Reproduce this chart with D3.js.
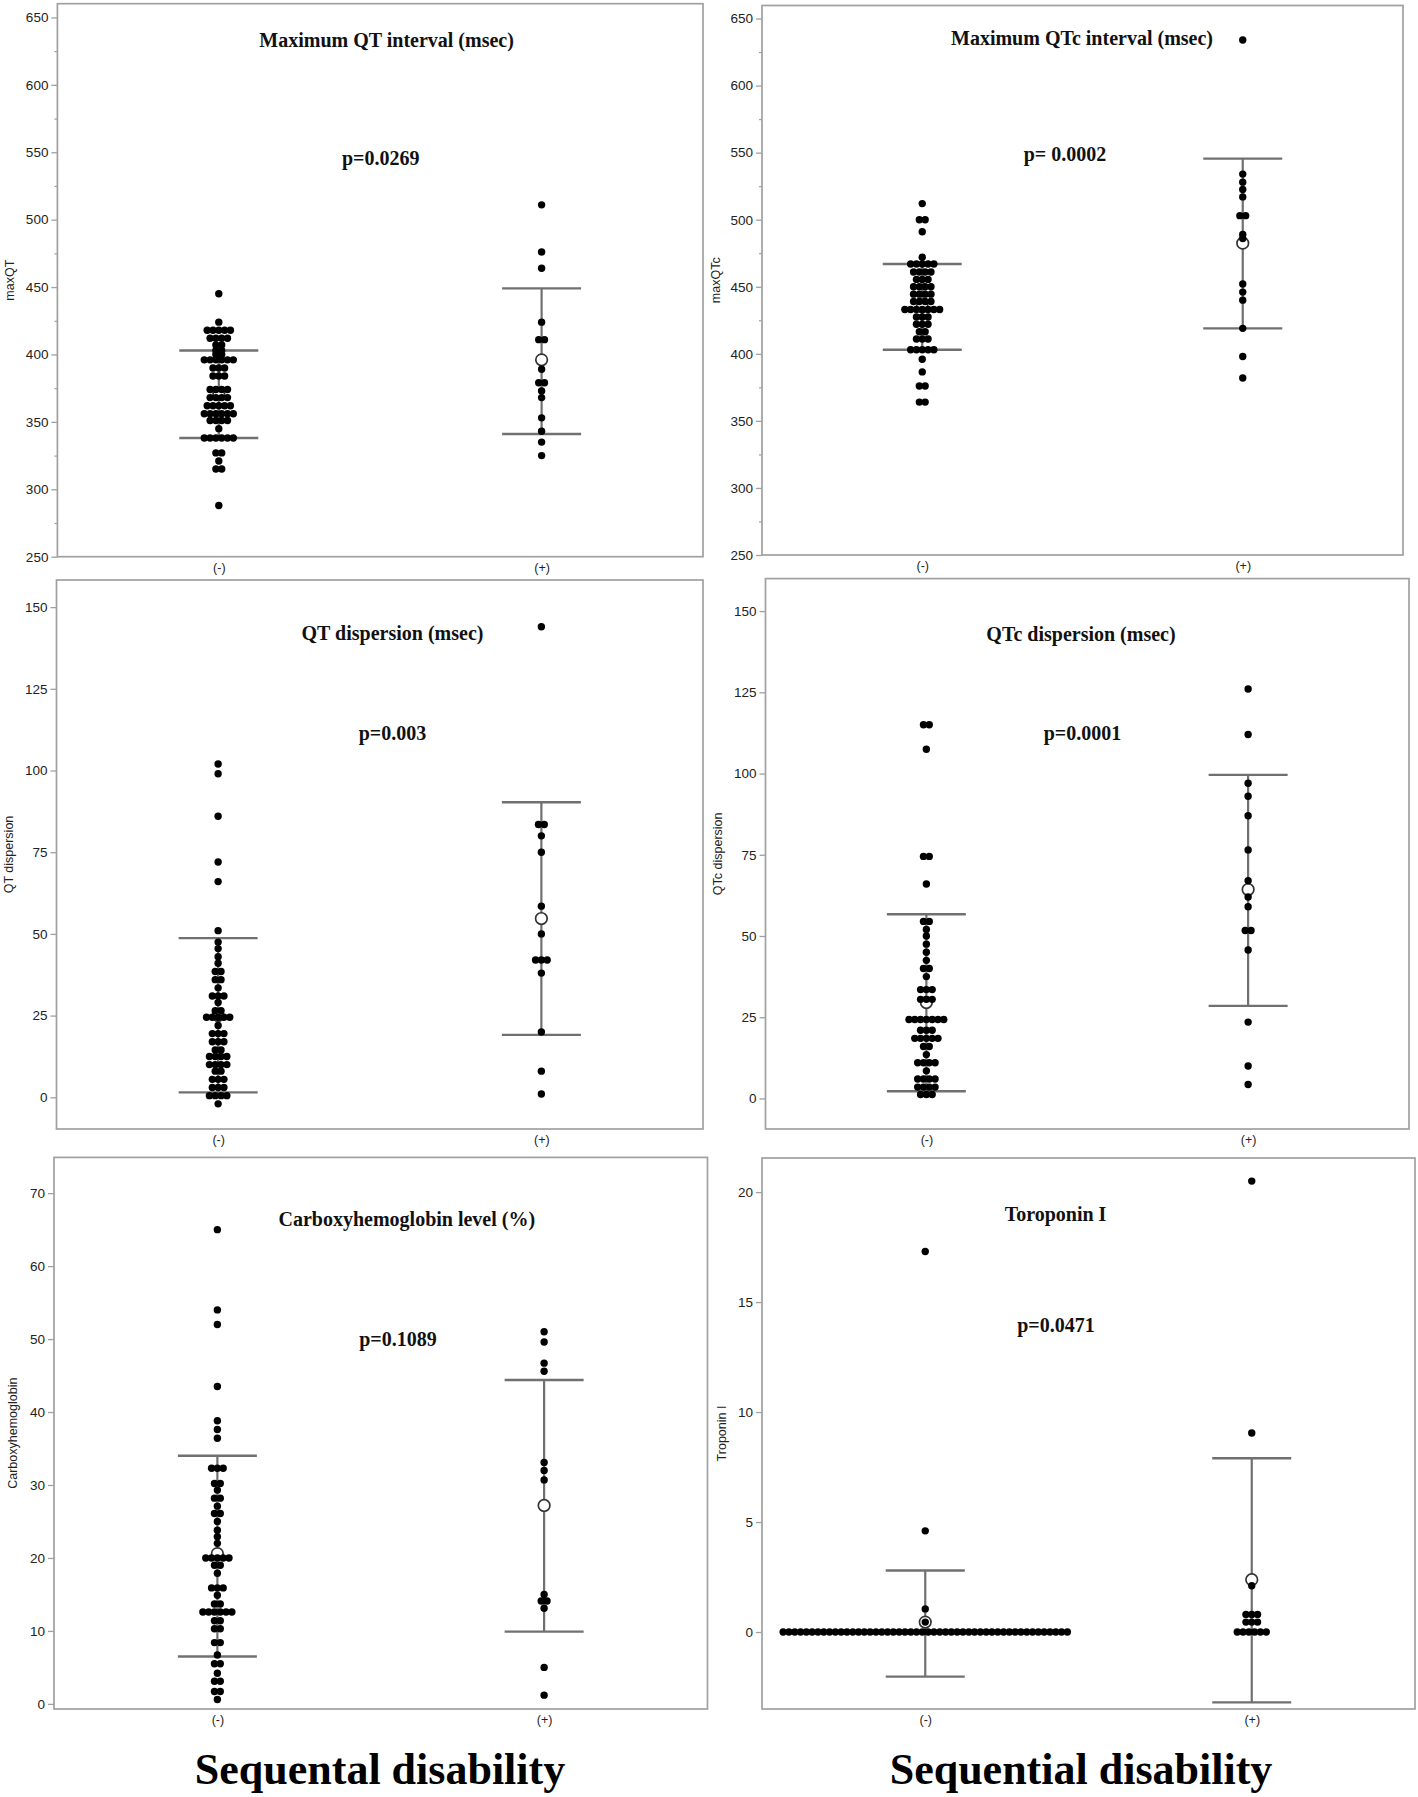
<!DOCTYPE html>
<html><head><meta charset="utf-8">
<script src="https://cdn.jsdelivr.net/npm/d3@7/dist/d3.min.js"></script>
<style>body{margin:0;background:#fff} svg{display:block}</style>
</head><body>
<svg id="chart" width="1418" height="1797"></svg>
<script>
// ---------------- DATA ----------------
const categories = ["(-)", "(+)"];
const panelTitles = ["Maximum QT interval (msec)", "Maximum QTc interval (msec)", "QT dispersion (msec)", "QTc dispersion (msec)", "Carboxyhemoglobin level (%)", "Toroponin I"];
const pLabels = ["p=0.0269", "p= 0.0002", "p=0.003", "p=0.0001", "p=0.1089", "p=0.0471"];
const yAxisLabels = ["maxQT", "maxQTc", "QT dispersion", "QTc dispersion", "Carboxyhemoglobin", "Troponin I"];
const bottomLabels = ["Sequental disability", "Sequential disability"];

const ticksQT = [250, 300, 350, 400, 450, 500, 550, 600, 650];
const minorTicksQT = [275, 325, 375, 425, 475, 525, 575, 625];
const ticksDisp = [0, 25, 50, 75, 100, 125, 150];
const ticksCOHb = [0, 10, 20, 30, 40, 50, 60, 70];
const ticksTrop = [0, 5, 10, 15, 20];

// Maximum QT
const maxQTNeg = [445, 424, 418, 418, 418, 418, 418, 412, 412, 412, 412, 407, 407, 403, 403, 400, 400,
  396, 396, 396, 396, 396, 396, 390, 390, 390, 384, 384, 384, 374, 374, 374, 374, 368, 368, 368, 368,
  362, 362, 362, 362, 362, 356, 356, 356, 356, 356, 356, 351, 351, 351, 351, 345,
  338, 338, 338, 338, 338, 338, 327, 327, 321, 315, 315, 288];
const maxQTPos = [511, 476, 464, 424, 411, 411, 389, 379, 379, 373, 368, 353, 343, 335, 325];
const maxQTMean = [370.5, 396];
const maxQTLow = [338, 341];
const maxQTHigh = [403, 449];

// Maximum QTc
const maxQTcNeg = [512, 500, 500, 491, 472, 467, 467, 467, 467, 467, 461, 461, 461, 461, 455.5, 455.5, 455.5,
  450, 450, 450, 450, 444.5, 444.5, 444.5, 444.5, 439, 439, 439, 439, 433, 433, 433, 433, 433, 433, 433,
  427.5, 427.5, 427.5, 422, 422, 422, 416.5, 416.5, 411, 411, 411, 403, 403, 403, 403, 403,
  396, 386.5, 376, 376, 364, 364];
const maxQTcPos = [634, 534, 528, 522.5, 517, 503, 503, 489, 486, 452, 446, 440, 419, 398, 382];
const maxQTcMean = [435, 482.5];
const maxQTcLow = [403, 419];
const maxQTcHigh = [467, 545.5];

// QT dispersion
const qtdNeg = [102, 99, 86, 72, 66, 51, 47.5, 45.5, 43, 41, 38.5, 38.5, 36, 36, 33.5, 31, 31, 31, 29,
  26.5, 26.5, 24.5, 24.5, 24.5, 24.5, 24.5, 22, 19.5, 19.5, 19.5, 17, 17, 17, 14.5, 14.5,
  12.5, 12.5, 12.5, 12.5, 10, 10, 10, 10, 8, 8, 5.5, 5.5, 5.5, 3, 3, 3, 0.5, 0.5, 0.5, 0.5, -2];
const qtdPos = [144, 83.5, 83.5, 80, 75, 58.5, 50, 42, 42, 42, 38, 20, 8, 1];
const qtdMean = [25, 54.7];
const qtdLow = [1.5, 19.1];
const qtdHigh = [48.7, 90.3];

// QTc dispersion
const qtcdNeg = [115, 115, 107.5, 74.5, 74.5, 66, 54.5, 54.5, 52, 50, 47.5, 45, 42.5, 40, 40, 37.5,
  33.5, 33.5, 33.5, 30.5, 30.5, 30.5, 24.3, 24.3, 24.3, 24.3, 24.3, 24.3, 24.3, 21, 21, 21,
  18.5, 18.5, 18.5, 18.5, 18.5, 16, 16, 13.5, 11, 11, 11, 11, 8.5, 6, 6, 6, 6, 3.5, 3.5, 3.5, 3.5, 1.2, 1.2, 1.2];
const qtcdPos = [126, 112, 97, 93, 87, 76.5, 67, 62, 59, 51.7, 51.7, 45.7, 23.5, 10, 4.3];
const qtcdMean = [29.5, 64.3];
const qtcdLow = [2.2, 28.5];
const qtcdHigh = [56.7, 99.6];

// Carboxyhemoglobin
const cohbNeg = [65, 54, 52, 43.5, 38.8, 37.6, 36.4, 32.3, 32.3, 32.3, 30.2, 30.2, 29.3, 28.2, 28.2, 27.1,
  26.1, 26.1, 25, 23.8, 22.9, 22, 20, 20, 20, 20, 20, 19, 19, 17.9, 15.9, 15.9, 15.9, 14.9, 13.7, 13.7,
  12.6, 12.6, 12.6, 12.6, 12.6, 12.6, 11.4, 11.4, 10.3, 10.3, 8.4, 8.4, 6.7, 5.5, 5.5, 4.2, 3.1, 3.1, 1.7, 1.7, 0.6];
const cohbPos = [51, 49.6, 46.7, 45.6, 33.1, 32, 30.7, 15, 14.1, 14.1, 13.1, 5, 1.2];
const cohbMean = [20.6, 27.2];
const cohbLow = [6.5, 9.9];
const cohbHigh = [34, 44.4];

// Troponin I
const tropNeg = [17.3, 4.6, 1.05, 0.45,
  0, 0, 0, 0, 0, 0, 0, 0, 0, 0, 0, 0, 0, 0, 0, 0, 0, 0, 0, 0, 0, 0, 0, 0, 0,
  0, 0, 0, 0, 0, 0, 0, 0, 0, 0, 0, 0, 0, 0, 0, 0, 0, 0, 0, 0, 0, 0, 0, 0, 0];
const tropPos = [20.5, 9.05, 2.1, 0.8, 0.8, 0.8, 0.45, 0.45, 0.45, 0, 0, 0, 0, 0, 0];
const tropMean = [0.45, 2.38];
const tropLow = [-2.03, -3.2];
const tropHigh = [2.8, 7.9];

// ---------------- LAYOUT ----------------
const panels = [
  {frame:[57.4, 3.7, 703, 556.7], dom:[250, 660.2], ticks:ticksQT, minor:minorTicksQT, neg:maxQTNeg, pos:maxQTPos, mean:maxQTMean, lo:maxQTLow, hi:maxQTHigh, title:[386.6, 47], p:[380.7, 164.6], ylab:10},
  {frame:[762, 5.5, 1403, 555], dom:[250, 659.7], ticks:ticksQT, minor:minorTicksQT, neg:maxQTcNeg, pos:maxQTcPos, mean:maxQTcMean, lo:maxQTcLow, hi:maxQTcHigh, title:[1082, 45], p:[1065, 161], ylab:716},
  {frame:[56.5, 580, 703, 1129], dom:[-9.7, 158.3], ticks:ticksDisp, minor:[], neg:qtdNeg, pos:qtdPos, mean:qtdMean, lo:qtdLow, hi:qtdHigh, title:[392.5, 640.4], p:[392.5, 740.4], ylab:9},
  {frame:[765.5, 578.6, 1409, 1129], dom:[-9.4, 160], ticks:ticksDisp, minor:[], neg:qtcdNeg, pos:qtcdPos, mean:qtcdMean, lo:qtcdLow, hi:qtcdHigh, title:[1081, 641], p:[1082.5, 740.4], ylab:718},
  {frame:[54, 1157.4, 707.5, 1709], dom:[-0.7, 74.9], ticks:ticksCOHb, minor:[], neg:cohbNeg, pos:cohbPos, mean:cohbMean, lo:cohbLow, hi:cohbHigh, title:[406.8, 1226.3], p:[398, 1346], ylab:13},
  {frame:[762, 1158, 1415, 1709], dom:[-3.5, 21.55], ticks:ticksTrop, minor:[], neg:tropNeg, pos:tropPos, mean:tropMean, lo:tropLow, hi:tropHigh, title:[1055.5, 1221], p:[1056, 1331.5], ylab:722}
];

const svg = d3.select("#chart");
const DOT_R = 3.7, DOT_STEP = 5.8, BAR_HALF = 39.5;
const FRAME = "#a0a0a0", BAR = "#707070";

function swarm(values) {
  const rows = d3.group(values, v => v);
  const out = [];
  for (const [v, arr] of rows) {
    const k = arr.length;
    arr.forEach((_, i) => out.push({v, off: i - (k - 1) / 2}));
  }
  return out;
}

panels.forEach((P, idx) => {
  const [x0, y0, x1, y1] = P.frame;
  const g = svg.append("g");
  const y = d3.scaleLinear().domain(P.dom).range([y1, y0]);
  const x = d3.scalePoint().domain(categories).range([x0, x1]).padding(0.5);

  g.append("rect").attr("x", x0).attr("y", y0).attr("width", x1 - x0).attr("height", y1 - y0)
    .attr("fill", "#fff").attr("stroke", FRAME).attr("stroke-width", 1.7);

  // y axis
  const ya = g.append("g").attr("transform", `translate(${x0},0)`)
    .call(d3.axisLeft(y).tickValues(P.ticks).tickSize(6).tickPadding(3).tickFormat(d3.format("d")));
  ya.select(".domain").remove();
  ya.selectAll("line").attr("stroke", FRAME).attr("stroke-width", 1.3);
  ya.selectAll("text").attr("font-family", "Liberation Sans, Arial, sans-serif").attr("font-size", 13.5).attr("fill", "#222");
  if (P.minor.length) {
    const ym = g.append("g").attr("transform", `translate(${x0},0)`)
      .call(d3.axisLeft(y).tickValues(P.minor).tickSize(3).tickFormat(""));
    ym.select(".domain").remove();
    ym.selectAll("line").attr("stroke", FRAME).attr("stroke-width", 1.2);
  }
  // x axis
  const xa = g.append("g").attr("transform", `translate(0,${y1})`)
    .call(d3.axisBottom(x).tickSize(0).tickPadding(6));
  xa.select(".domain").remove();
  xa.selectAll("text").attr("font-family", "Liberation Sans, Arial, sans-serif").attr("font-size", 12.5).attr("fill", "#222");

  // y axis label
  g.append("text").attr("transform", `translate(${P.ylab},${(y0 + y1) / 2}) rotate(-90)`)
    .attr("text-anchor", "middle").attr("dy", "0.35em")
    .attr("font-family", "Liberation Sans, Arial, sans-serif").attr("font-size", 12.5).attr("fill", "#222")
    .text(yAxisLabels[idx]);

  // error bars (mean ± SD)
  categories.forEach((c, i) => {
    const cx = x(c);
    g.append("line").attr("x1", cx).attr("x2", cx).attr("y1", y(P.hi[i])).attr("y2", y(P.lo[i]))
      .attr("stroke", BAR).attr("stroke-width", 2.2);
    [P.hi[i], P.lo[i]].forEach(v => {
      g.append("line").attr("x1", cx - BAR_HALF).attr("x2", cx + BAR_HALF).attr("y1", y(v)).attr("y2", y(v))
        .attr("stroke", BAR).attr("stroke-width", 2.4);
    });
    g.append("circle").attr("cx", cx).attr("cy", y(P.mean[i])).attr("r", 5.8)
      .attr("fill", "#fff").attr("stroke", "#333").attr("stroke-width", 1.7);
  });

  // dots
  [P.neg, P.pos].forEach((vals, i) => {
    const cx = x(categories[i]);
    g.selectAll(null).data(swarm(vals)).join("circle")
      .attr("cx", d => cx + d.off * DOT_STEP).attr("cy", d => y(d.v)).attr("r", DOT_R).attr("fill", "#000");
  });

  // title & p-value
  g.append("text").attr("x", P.title[0]).attr("y", P.title[1]).attr("text-anchor", "middle")
    .attr("font-family", "Liberation Serif, Times New Roman, serif").attr("font-weight", "bold").attr("font-size", 20).attr("fill", "#111")
    .text(panelTitles[idx]);
  g.append("text").attr("x", P.p[0]).attr("y", P.p[1]).attr("text-anchor", "middle")
    .attr("font-family", "Liberation Serif, Times New Roman, serif").attr("font-weight", "bold").attr("font-size", 20).attr("fill", "#111")
    .text(pLabels[idx]);
});

// bottom labels
[[380, 1784], [1081, 1784]].forEach((pos, i) => {
  svg.append("text").attr("x", pos[0]).attr("y", pos[1]).attr("text-anchor", "middle")
    .attr("font-family", "Liberation Serif, Times New Roman, serif").attr("font-weight", "bold").attr("font-size", 44).attr("fill", "#000")
    .text(bottomLabels[i]);
});
</script>
</body></html>
